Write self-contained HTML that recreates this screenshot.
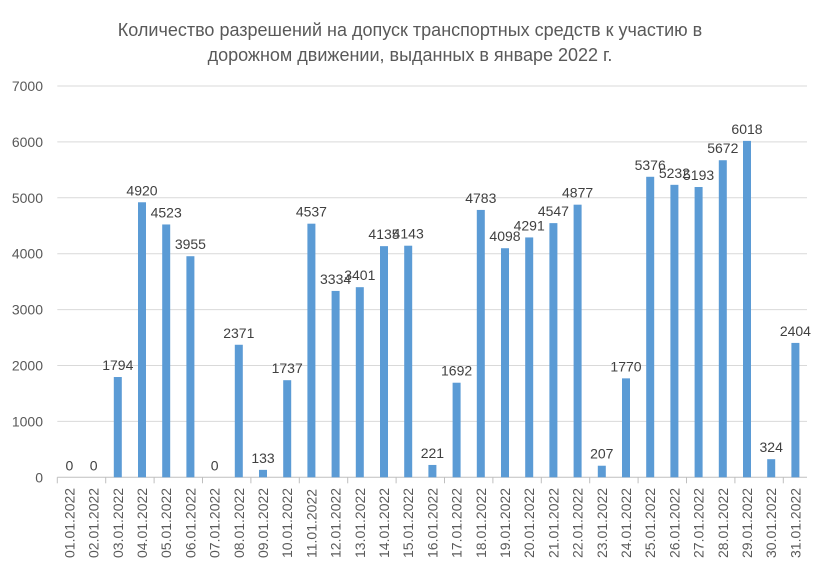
<!DOCTYPE html><html><head><meta charset="utf-8"><style>body{margin:0;background:#fff}</style></head><body>
<svg width="820" height="571" xmlns="http://www.w3.org/2000/svg" font-family="Liberation Sans, DejaVu Sans, sans-serif">
<text x="410" y="36" text-anchor="middle" font-size="18" fill="#595959">Количество разрешений на допуск транспортных средств к участию в</text>
<text x="410" y="61" text-anchor="middle" font-size="18" fill="#595959">дорожном движении, выданных в январе 2022 г.</text>
<g id="g"></g>
</svg>
<script>
const d=[0,0,1794,4920,4523,3955,0,2371,133,1737,4537,3334,3401,4135,4143,221,1692,4783,4098,4291,4547,4877,207,1770,5376,5232,5193,5672,6018,324,2404];
const y0=477.3,s=55.9/1000,x0=57.3,w=24.2;let h='';
for(let i=0;i<=7;i++){const y=y0-i*1000*s;h+=`<line x1="${x0}" x2="807" y1="${y}" y2="${y}" stroke="${i?'#d9d9d9':'#bfbfbf'}"/>`;h+=`<text x="43" y="${y+5}" text-anchor="end" font-size="14" fill="#595959">${i*1000}</text>`;}
for(let i=0;i<=31;i+=2){const x=x0+i*w;h+=`<line x1="${x}" x2="${x}" y1="${y0}" y2="${y0+6}" stroke="#bfbfbf"/>`;}
d.forEach((v,i)=>{const c=x0+(i+0.5)*w,t=y0-v*s;if(v)h+=`<rect x="${c-4}" y="${t}" width="8" height="${v*s}" fill="#5b9bd5"/>`;
h+=`<text x="${c}" y="${t-7}" text-anchor="middle" font-size="14" fill="#404040">${v}</text>`;
const dd=String(i+1).padStart(2,'0')+'.01.2022';h+=`<text transform="translate(${c+5},558) rotate(-90)" font-size="14" fill="#595959">${dd}</text>`;});
document.getElementById('g').innerHTML=h;
</script>
</body></html>
